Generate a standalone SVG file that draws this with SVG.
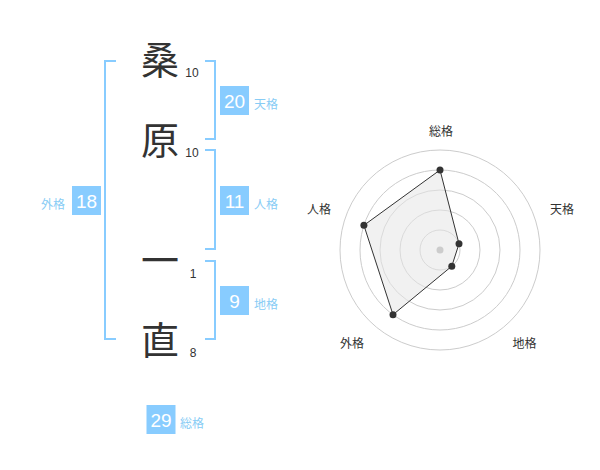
<svg xmlns="http://www.w3.org/2000/svg" width="600" height="470" viewBox="0 0 600 470">
<style>
.kanji{font-family:"Noto Sans CJK JP","Noto Sans CJK SC",sans-serif;font-size:38px;fill:#333;text-anchor:middle}
.stroke{font-family:"Liberation Sans",Arial,sans-serif;font-size:12px;fill:#333;text-anchor:middle}
.box{fill:#88ccff}
.boxnum{font-family:"Liberation Sans",Arial,sans-serif;font-size:19px;fill:#fff;text-anchor:middle}
.lbl{font-family:"Noto Sans CJK JP","Noto Sans CJK SC",sans-serif;font-size:12px;fill:#88ccf5}
.brk{fill:none;stroke:#88ccff;stroke-width:2}
.ring{fill:none;stroke:#cccccc;stroke-width:1}
.axis{font-family:"Noto Sans CJK JP","Noto Sans CJK SC",sans-serif;font-size:12px;fill:#333;text-anchor:middle}
.dot{fill:#333}
</style>
<rect width="600" height="470" fill="#fff"/>
<g id="name">
<g id="char1"><text class="kanji" x="160" y="74">桑</text><text class="stroke" x="192" y="77">10</text></g>
<g id="char2"><text class="kanji" x="160" y="154">原</text><text class="stroke" x="192" y="157">10</text></g>
<g id="char3"><text class="kanji" x="160" y="274">一</text><text class="stroke" x="193" y="278">1</text></g>
<g id="char4"><text class="kanji" x="160" y="354">直</text><text class="stroke" x="193" y="357">8</text></g>
</g>
<g id="connectors">
<path class="brk" d="M116,61 H105 V339 H116"/>
<path class="brk" d="M205,61 H215 V139 H205"/>
<path class="brk" d="M205,150 H215 V249 H205"/>
<path class="brk" d="M205,261 H215 V339 H205"/>
</g>
<g id="tenkaku"><rect class="box" x="220" y="86" width="29" height="29"/><text class="boxnum" x="234.5" y="107.5">20</text><text class="lbl" x="254" y="109">天格</text></g>
<g id="jinkaku"><rect class="box" x="220" y="186" width="29" height="29"/><text class="boxnum" x="234.5" y="207.5">11</text><text class="lbl" x="254" y="209">人格</text></g>
<g id="chikaku"><rect class="box" x="220" y="286" width="29" height="29"/><text class="boxnum" x="234.5" y="307.5">9</text><text class="lbl" x="254" y="309">地格</text></g>
<g id="gaikaku"><rect class="box" x="72" y="186" width="29" height="29"/><text class="boxnum" x="86.5" y="207.5">18</text><text class="lbl" x="65" y="209" text-anchor="end">外格</text></g>
<g id="soukaku"><rect class="box" x="146.5" y="405" width="29" height="29"/><text class="boxnum" x="161" y="426.5">29</text><text class="lbl" x="180" y="428">総格</text></g>
<g id="radar">
<circle class="ring" cx="440" cy="250" r="20"/>
<circle class="ring" cx="440" cy="250" r="40"/>
<circle class="ring" cx="440" cy="250" r="60"/>
<circle class="ring" cx="440" cy="250" r="80"/>
<circle class="ring" cx="440" cy="250" r="100"/>
<polygon points="440,170 459,243.8 451.8,266.2 393,314.7 363.9,225.3" fill="#e6e6e6" fill-opacity="0.55" stroke="#333" stroke-width="1"/>
<circle cx="440" cy="250" r="3.5" fill="#cccccc"/>
<circle class="dot" cx="440" cy="170" r="3.5"/>
<circle class="dot" cx="459" cy="243.8" r="3.5"/>
<circle class="dot" cx="451.8" cy="266.2" r="3.5"/>
<circle class="dot" cx="393" cy="314.7" r="3.5"/>
<circle class="dot" cx="363.9" cy="225.3" r="3.5"/>
<text class="axis" x="441" y="136">総格</text>
<text class="axis" x="562" y="214">天格</text>
<text class="axis" x="319" y="214">人格</text>
<text class="axis" x="352" y="348">外格</text>
<text class="axis" x="524.5" y="348">地格</text>
</g>
</svg>
